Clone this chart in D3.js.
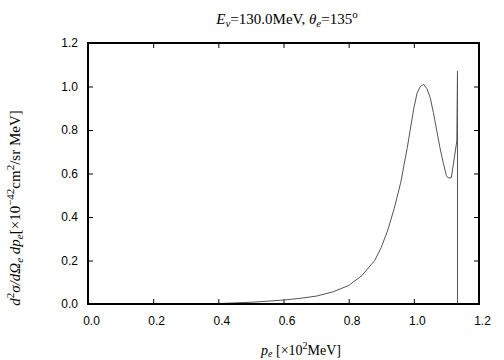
<!DOCTYPE html>
<html>
<head>
<meta charset="utf-8">
<script src="https://cdn.jsdelivr.net/npm/d3@7"></script>
<style>
  body { margin: 0; background: #fff; }
  svg { display: block; }
</style>
</head>
<body>
<div id="plot"></div>
<script>
// electron momentum [x10^2 MeV]
const pe = [0.40, 0.50, 0.60, 0.65, 0.70, 0.75, 0.80, 0.84, 0.88, 0.90, 0.92, 0.94, 0.96, 0.98,
            1.00, 1.01, 1.02, 1.03, 1.04, 1.05, 1.06, 1.07, 1.08, 1.09, 1.10, 1.105, 1.115,
            1.125, 1.132, 1.134, 1.134];
// cross section [x10^-42 cm^2/sr MeV]
const xsec = [0.002, 0.008, 0.018, 0.026, 0.036, 0.055, 0.085, 0.13, 0.20, 0.26, 0.34, 0.44, 0.56, 0.72,
              0.90, 0.97, 1.00, 1.01, 0.99, 0.95, 0.88, 0.80, 0.72, 0.65, 0.59, 0.58, 0.58,
              0.68, 0.75, 1.07, 0.0];
const xTicks = [0.0, 0.2, 0.4, 0.6, 0.8, 1.0, 1.2];
const yTicks = [0.0, 0.2, 0.4, 0.6, 0.8, 1.0, 1.2];

const w = 504, h = 360;
const m = {left: 88, right: 25, top: 43, bottom: 56};

const svg = d3.select("#plot").append("svg")
    .attr("width", w)
    .attr("height", h);

const x = d3.scaleLinear().domain([0, 1.2]).range([m.left, w - m.right]);
const y = d3.scaleLinear().domain([0, 1.2]).range([h - m.bottom, m.top]);

const tickFont = "'Liberation Sans', Arial, sans-serif";
const serif = "'Liberation Serif', 'Times New Roman', serif";

//Axes with inward ticks, mirrored on top and right
const styleAxis = g => {
    g.select(".domain").remove();
    g.selectAll("line").attr("stroke", "#000").attr("stroke-width", 1);
    g.selectAll("text").attr("font-family", tickFont).attr("font-size", 12).attr("fill", "#000");
};

svg.append("g")
    .attr("transform", `translate(0,${y(0)})`)
    .call(d3.axisBottom(x).tickValues(xTicks).tickFormat(d3.format(".1f")).tickSizeInner(-5).tickSizeOuter(0).tickPadding(12))
    .call(styleAxis)
    .selectAll("text").attr("dx", 3);
svg.append("g")
    .attr("transform", `translate(0,${y(1.2)})`)
    .call(d3.axisTop(x).tickValues(xTicks).tickFormat("").tickSizeInner(-5).tickSizeOuter(0))
    .call(styleAxis);
svg.append("g")
    .attr("transform", `translate(${x(0)},0)`)
    .call(d3.axisLeft(y).tickValues(yTicks).tickFormat(d3.format(".1f")).tickSizeInner(-5).tickSizeOuter(0).tickPadding(10))
    .call(styleAxis);
svg.append("g")
    .attr("transform", `translate(${x(1.2)},0)`)
    .call(d3.axisRight(y).tickValues(yTicks).tickFormat("").tickSizeInner(-5).tickSizeOuter(0))
    .call(styleAxis);

//Curve
const line = d3.line()
    .x((d, i) => x(pe[i]))
    .y(d => y(d))
    .curve(d3.curveLinear);

svg.append("path")
    .datum(xsec)
    .attr("fill", "none")
    .attr("stroke", "#555")
    .attr("stroke-width", 1)
    .attr("d", line);

//Frame
svg.append("rect")
    .attr("x", x(0))
    .attr("y", y(1.2))
    .attr("width", x(1.2) - x(0))
    .attr("height", y(0) - y(1.2))
    .attr("fill", "none")
    .attr("stroke", "#000")
    .attr("stroke-width", 2);

//Title
const title = svg.append("text")
    .attr("x", 287)
    .attr("y", 24)
    .attr("text-anchor", "middle")
    .attr("font-family", serif)
    .attr("font-size", 15);
title.append("tspan").attr("font-style", "italic").text("E");
title.append("tspan").attr("font-style", "italic").attr("font-size", 11).attr("dy", 3).text("ν");
title.append("tspan").attr("dy", -3).text("=130.0MeV,  ");
title.append("tspan").attr("font-style", "italic").text("θ");
title.append("tspan").attr("font-style", "italic").attr("font-size", 11).attr("dy", 3).text("e");
title.append("tspan").attr("dy", -3).text("=135");
title.append("tspan").attr("font-size", 11).attr("dy", -6).text("o");

//X label, kept near the bottom edge
const xl = svg.append("text")
    .attr("x", 301)
    .attr("y", 355)
    .attr("text-anchor", "middle")
    .attr("font-family", serif)
    .attr("font-size", 14);
xl.append("tspan").attr("font-style", "italic").text("p");
xl.append("tspan").attr("font-style", "italic").attr("font-size", 10).attr("dy", 2).text("e");
xl.append("tspan").attr("dy", -2).text(" [×10");
xl.append("tspan").attr("font-size", 10).attr("dy", -6).text("2");
xl.append("tspan").attr("dy", 6).text("MeV]");

//Y label
const yl = svg.append("text")
    .attr("transform", "translate(20,208) rotate(-90)")
    .attr("text-anchor", "middle")
    .attr("font-family", serif)
    .attr("font-size", 15);
yl.append("tspan").attr("font-style", "italic").text("d");
yl.append("tspan").attr("font-size", 11).attr("dy", -6).text("2");
yl.append("tspan").attr("font-style", "italic").attr("dy", 6).text("σ/dΩ");
yl.append("tspan").attr("font-style", "italic").attr("font-size", 11).attr("dy", 3).text("e");
yl.append("tspan").attr("font-style", "italic").attr("dy", -3).text(" dp");
yl.append("tspan").attr("font-style", "italic").attr("font-size", 11).attr("dy", 3).text("e");
yl.append("tspan").attr("dy", -3).text("[×10");
yl.append("tspan").attr("font-size", 11).attr("dy", -6).text("−42");
yl.append("tspan").attr("dy", 6).text("cm");
yl.append("tspan").attr("font-size", 11).attr("dy", -6).text("2");
yl.append("tspan").attr("dy", 6).text("/sr MeV]");
</script>
</body>
</html>
